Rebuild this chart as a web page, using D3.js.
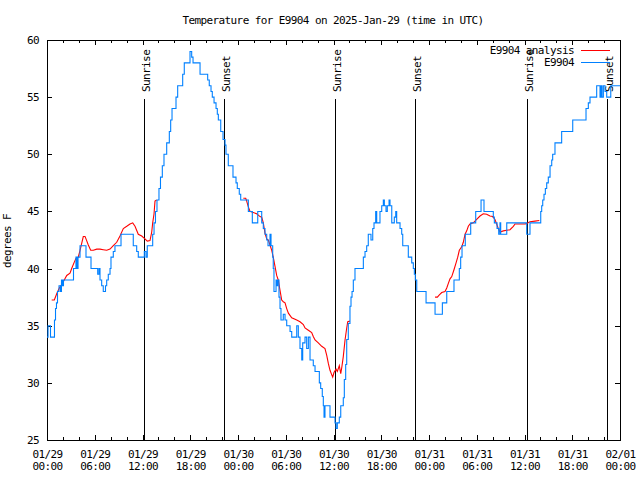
<!DOCTYPE html>
<html><head><meta charset="utf-8">
<script src="https://cdn.jsdelivr.net/npm/d3@7"></script>
<style>
body{margin:0;background:#fff}
svg{display:block}
text{font-family:"DejaVu Sans Mono",monospace;font-size:11px;letter-spacing:-0.6px;fill:#000}
</style></head><body>
<svg id="c" width="640" height="480"></svg>
<script>
// ---- data ----
const startDate = Date.UTC(2025, 0, 29);
const spanHours = 72;
const titleText = "Temperature for E9904 on 2025-Jan-29 (time in UTC)";
const yLabel = "degrees F";
const seriesNames = ["E9904 analysis", "E9904"];
const yTicks = [25, 30, 35, 40, 45, 50, 55, 60];

// observations (hours since 01/29 00:00 UTC, degrees F)
const obsHours = [0.00,0.13,0.44,0.94,1.07,1.19,1.32,1.51,1.70,1.82,1.95,2.07,3.33,3.64,3.77,3.90,4.15,4.90,5.53,6.37,
  6.53,6.66,6.87,7.07,7.35,7.50,7.70,7.92,8.04,8.33,8.54,9.30,10.84,11.27,11.47,12.23,12.44,12.60,13.28,13.45,
  13.63,13.82,14.07,14.26,14.49,14.70,15.04,15.37,15.54,15.71,16.21,16.42,17.05,17.25,17.97,18.18,18.35,19.23,20.19,20.39,
  20.61,20.77,20.99,21.24,21.40,21.53,21.83,22.12,22.37,22.49,22.78,23.37,23.75,23.91,24.16,24.34,25.30,25.80,26.48,26.98,
  27.18,27.39,27.61,27.77,28.02,28.15,28.36,28.43,28.52,28.78,28.86,28.99,29.15,29.28,29.40,29.69,29.91,30.12,30.54,30.75,
  31.38,31.58,31.79,32.01,32.13,32.42,32.63,32.84,33.05,33.46,33.68,34.22,34.39,34.59,34.72,34.81,34.93,35.56,36.19,36.32,
  36.48,36.73,36.91,37.23,37.36,37.53,37.66,37.86,38.07,38.20,38.33,38.49,38.70,39.75,39.96,40.17,40.37,40.71,40.93,41.09,
  41.30,41.43,41.84,42.06,42.26,42.39,42.60,42.76,42.98,43.10,43.32,43.64,43.82,43.94,44.36,44.57,44.70,45.40,45.83,46.03,
  46.16,46.28,46.46,47.63,48.76,49.68,50.23,51.14,51.81,51.98,52.15,52.56,53.24,53.87,54.54,54.91,56.08,56.21,56.55,56.76,
  56.92,57.01,57.77,60.28,60.69,62.04,62.16,62.29,62.45,62.62,62.79,62.99,63.21,63.42,63.54,63.83,64.67,66.06,67.73,68.02,
  68.23,69.07,69.49,69.62,69.74,69.91,70.12,70.33,70.84,72.00];
const obsValues = [34,35,34,35.5,36.5,37,38,38.5,38,39,38.5,39,40,41,40,41,42,41,40,39.5,
  40,39,38.5,38,38.5,39,39.5,40,41,41.5,42,43,42,41.5,41,41.5,41,42,43,44,
  45,46,47,48,49,50,51,52,53,54,55,56,57,58,59,58.5,58,57,56.5,56,
  55.5,55,54.5,54,53.5,53,52,51.3,50.8,50,49,48,47.5,47,46.5,46,45,44,45,44,
  43.5,43,42.5,42,43,42,41,40,38,39,38.5,39,37.5,36.5,35.5,36,35.5,35,34.5,34,
  35,34,33,32,33.5,34,33,34,32,31.5,31,30,29.5,28.8,28,27,28,27,26.5,26,
  26.5,27,28,28.7,30.3,31.6,33.8,35.2,36.7,37.5,38,39,40,41,41.5,42,43,42.5,43.5,44,
  45,44,45,45.5,46,45.5,45,45.5,46,45.5,44,44.5,45,44,43.5,43,42,41,40.5,40,
  39.5,39,38,37,36,37,38,39,40,41,42,43,44,45,46,45,44.5,44,43.5,43,
  44,43,44,43,44,45,45.5,46,46.5,47,47.5,48,49,49.5,50,51,52,53,54,54.5,
  55,56,55,56,55,56,55.5,55,56,56];

// analysis (null separates segments)
const anaHours = [0.59,0.92,1.22,1.55,1.85,2.17,2.48,2.89,3.10,3.39,3.64,3.93,4.15,4.36,4.56,4.78,4.90,5.19,5.49,5.82,
  6.25,6.66,7.07,7.50,7.92,8.33,8.76,9.17,9.59,10.02,10.43,10.77,11.06,11.47,11.90,12.31,12.60,12.94,13.16,13.28,
  13.45,13.57,13.78,null,
  24.67,24.97,25.09,25.30,25.51,25.92,26.35,26.77,26.98,27.18,27.39,27.61,27.81,28.02,28.24,28.43,28.65,28.86,29.06,29.28,
  29.49,29.69,29.91,30.12,30.33,30.75,31.38,31.79,32.21,32.42,32.84,33.26,33.46,33.68,34.09,34.52,34.93,35.15,35.35,35.56,
  35.78,35.90,36.06,36.32,36.48,36.73,36.91,37.03,37.23,37.45,37.66,37.79,38.07,null,
  48.76,49.05,49.30,49.60,50.01,50.23,50.43,50.64,50.86,51.14,51.40,51.61,51.81,52.11,52.31,52.53,52.74,52.94,53.15,53.57,
  53.99,54.41,54.82,55.25,55.66,56.00,56.29,56.50,56.71,56.92,57.34,57.77,58.18,58.60,58.81,59.44,60.07,60.28,60.69,61.32,61.86];
const anaValues = [37.25,37.25,37.8,38.3,38.6,39.0,39.4,39.6,40.0,40.5,40.9,41.0,41.6,42.2,42.8,42.8,42.6,42.06,41.6,41.6,
  41.7,41.7,41.65,41.6,41.7,42.0,42.3,42.85,43.5,43.7,43.9,44.0,43.7,43.0,42.85,42.6,42.4,42.45,43.2,44.0,
  44.8,45.9,46.0,null,
  46.15,46.15,45.9,45.4,45.0,44.9,44.8,44.55,44.5,44.0,43.1,42.6,42.5,42.06,41.6,41.0,40.2,39.4,39.0,38.1,
  37.25,37.1,37.0,36.5,36.1,35.7,35.5,35.35,35.1,34.8,34.6,34.4,34.05,33.75,33.5,33.2,33.0,32.4,31.7,31.1,
  30.7,30.5,30.9,31.2,31.0,31.5,30.8,31.3,32.3,33.75,34.8,35.35,35.4,null,
  37.5,37.5,37.7,37.9,38.0,38.3,38.7,39.1,39.3,39.9,40.5,41.0,41.6,41.9,42.3,43.0,43.3,43.7,43.9,44.0,
  44.3,44.6,44.8,44.75,44.6,44.55,44.3,43.9,43.5,43.2,43.3,43.35,43.4,43.7,43.9,43.9,43.9,43.95,44.1,44.15,44.2];

const sunHours = [12.23, 22.28, 36.23, 46.28, 60.32, 70.41];
const sunLabels = ["Sunrise", "Sunset", "Sunrise", "Sunset", "Sunrise", "Sunset"];

// ---- drawing ----
const H = 3600e3;
const toDate = h => new Date(startDate + h * H);
const M = {left: 47, right: 620, top: 40, bottom: 440};
const colAna = "#ff0000", colObs = "#0080ff";

const svg = d3.select("#c");
const x = d3.scaleUtc().domain([toDate(0), toDate(spanHours)]).range([M.left, M.right]);
const y = d3.scaleLinear().domain([25, 60]).range([M.bottom, M.top]);

const majorT = d3.utcHour.every(6).range(toDate(0), toDate(spanHours + 0.01));
const minorT = d3.utcHour.every(2).range(toDate(0), toDate(spanHours + 0.01));

function clean(g){ g.select(".domain").remove(); g.selectAll("line").attr("stroke","#000").attr("shape-rendering","crispEdges"); }

// minor ticks bottom/top
svg.append("g").attr("transform",`translate(0,${M.bottom})`)
  .call(d3.axisBottom(x).tickValues(minorT).tickSize(-3).tickFormat(""))
  .call(clean);
svg.append("g").attr("transform",`translate(0,${M.top})`)
  .call(d3.axisTop(x).tickValues(minorT).tickSize(-3).tickFormat(""))
  .call(clean);
// major bottom with two-line labels
const fd = d3.utcFormat("%m/%d"), ft = d3.utcFormat("%H:%M");
const bx = svg.append("g").attr("transform",`translate(0,${M.bottom})`)
  .call(d3.axisBottom(x).tickValues(majorT).tickSize(-5).tickFormat(""))
  .call(clean);
bx.selectAll(".tick text").each(function(d){
  const t = d3.select(this).attr("y",0).attr("dy",null).attr("fill","#000");
  t.append("tspan").attr("x",0).attr("y",18).text(fd(d));
  t.append("tspan").attr("x",0).attr("y",30).text(ft(d));
});
svg.append("g").attr("transform",`translate(0,${M.top})`)
  .call(d3.axisTop(x).tickValues(majorT).tickSize(-5).tickFormat(""))
  .call(clean);
// y axes
svg.append("g").attr("transform",`translate(${M.left},0)`)
  .call(d3.axisLeft(y).tickValues(yTicks).tickSize(-5).tickPadding(8).tickFormat(d3.format("d")))
  .call(clean)
  .selectAll("text").attr("fill","#000");
svg.append("g").attr("transform",`translate(${M.right},0)`)
  .call(d3.axisRight(y).tickValues(yTicks).tickSize(-5).tickFormat(""))
  .call(clean);
svg.selectAll("g").attr("font-size",null).attr("font-family",null);

// frame
svg.append("rect").attr("x",M.left+0.5).attr("y",M.top+0.5)
  .attr("width",M.right-M.left).attr("height",M.bottom-M.top)
  .attr("fill","none").attr("stroke","#000").attr("shape-rendering","crispEdges");

// sun lines
const sun = svg.append("g");
sunHours.forEach((h,i)=>{
  const sx = Math.round(x(toDate(h))) + 0.5;
  sun.append("line").attr("x1",sx).attr("x2",sx).attr("y1",99).attr("y2",M.bottom)
    .attr("stroke","#000").attr("shape-rendering","crispEdges");
  sun.append("text").attr("transform",`translate(${sx+5.5},92) rotate(-90)`)
    .attr("text-anchor","start").text(sunLabels[i]);
});

// analysis line
const ana = anaHours.map((h,i)=>({h, v: anaValues[i]}));
svg.append("path").datum(ana)
  .attr("d", d3.line().defined(d=>d.h!==null && d.v!==null).x(d=>x(toDate(d.h))).y(d=>y(d.v)))
  .attr("fill","none").attr("stroke",colAna).attr("stroke-width",1.1);

// observation line
const obs = obsHours.map((h,i)=>({h, v: obsValues[i]}));
svg.append("path").datum(obs)
  .attr("d", d3.line().curve(d3.curveStepAfter).x(d=>x(toDate(d.h))).y(d=>y(d.v)))
  .attr("fill","none").attr("stroke",colObs).attr("stroke-width",1.1);

// title
svg.append("text").attr("x",333).attr("y",24).attr("text-anchor","middle").text(titleText);
// y label
svg.append("text").attr("transform","translate(11,241) rotate(-90)").attr("text-anchor","middle").text(yLabel);

// legend
const leg = svg.append("g");
[[seriesNames[0],colAna,50],[seriesNames[1],colObs,62]].forEach(([name,c,ly])=>{
  leg.append("text").attr("x",574).attr("y",ly+4).attr("text-anchor","end").text(name);
  leg.append("line").attr("x1",581).attr("x2",610).attr("y1",ly+0.5).attr("y2",ly+0.5)
    .attr("stroke",c).attr("shape-rendering","crispEdges");
});
</script>
</body></html>
